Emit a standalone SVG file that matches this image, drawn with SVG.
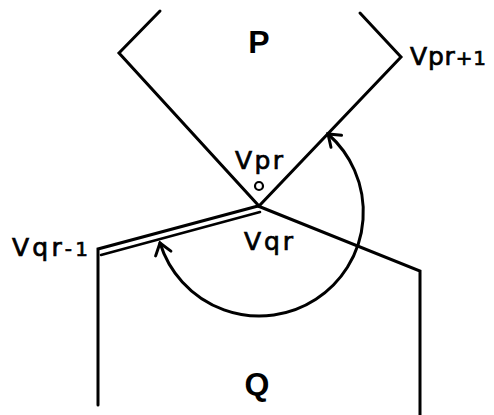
<svg xmlns="http://www.w3.org/2000/svg" width="494" height="415" viewBox="0 0 494 415">
<style>
.edge{fill:none;stroke:#000;stroke-width:3;stroke-linejoin:miter;stroke-linecap:round}
.thin{fill:none;stroke:#000;stroke-width:2.6;stroke-linecap:round}
.lbl{font-family:"DejaVu Sans",sans-serif;font-size:25px;fill:#000;stroke:#000;stroke-width:0.7}
.big{font-family:"Liberation Sans",Arial,sans-serif;font-weight:bold;font-size:32px;fill:#000}
</style>
<defs>
<marker id="ah" markerUnits="userSpaceOnUse" markerWidth="30" markerHeight="30" viewBox="-15 -15 30 30" refX="0" refY="0" orient="auto-start-reverse">
<path d="M-11,-8 L0,0 L-11,8" fill="none" stroke="#000" stroke-width="3" stroke-linecap="round"/>
</marker>
</defs>
<rect width="494" height="415" fill="#fff"/>
<g id="P">
<polyline class="edge" points="160,11 119,53 259,206 401,57 360,13"/>
<text class="big" x="259" y="53" text-anchor="middle">P</text>
</g>
<g id="Q">
<polyline class="edge" points="98,405 98,249 258,206"/>
<polyline class="edge" points="258,206 420,271 420,415"/>
<line class="thin" x1="101" y1="255" x2="260" y2="212"/>
<text class="big" x="257" y="395" text-anchor="middle">Q</text>
</g>
<g id="vpr">
<circle cx="259" cy="186" r="4" fill="none" stroke="#000" stroke-width="2.2"/>
<text class="lbl" x="235" y="169" textLength="48" lengthAdjust="spacing">Vpr</text>
</g>
<g id="vqr">
<text class="lbl" x="244" y="250" textLength="49" lengthAdjust="spacing">Vqr</text>
</g>
<g id="vpr1">
<text class="lbl" x="410" y="65" textLength="76" lengthAdjust="spacing">Vpr<tspan font-size="20">+1</tspan></text>
</g>
<g id="vqr1">
<text class="lbl" x="12" y="256" textLength="76" lengthAdjust="spacing">Vqr<tspan font-size="20">-1</tspan></text>
</g>
<g id="connectors">
<path class="edge" d="M160,243 A104,104 0 1 0 328,134" marker-start="url(#ah)" marker-end="url(#ah)"/>
</g>
</svg>
